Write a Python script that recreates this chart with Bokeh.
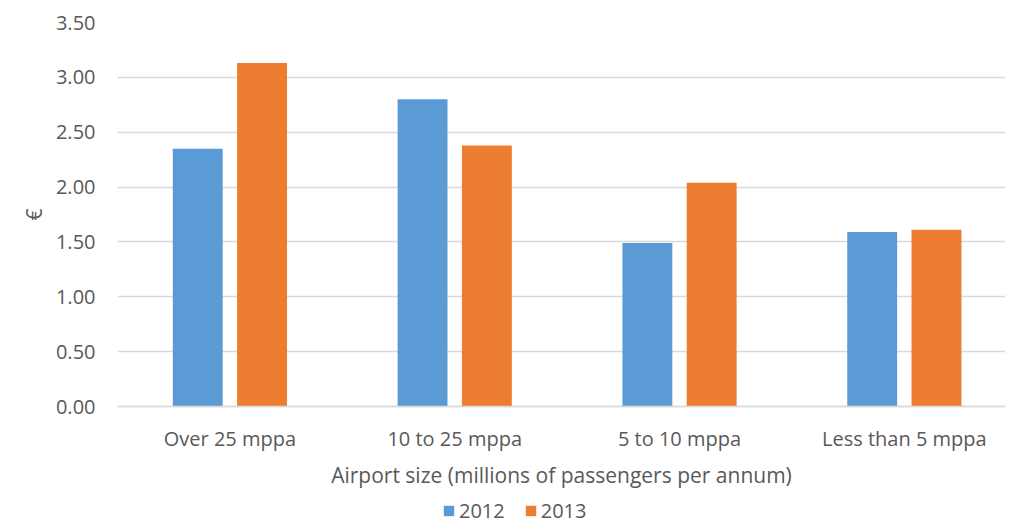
from bokeh.plotting import figure
from bokeh.models import (ColumnDataSource, Range1d, NumeralTickFormatter, Legend, LegendItem,
                          FixedTicker, Title)
from bokeh.embed import file_html
from bokeh.resources import INLINE

categories = ["Over 25 mppa", "10 to 25 mppa", "5 to 10 mppa", "Less than 5 mppa"]
values_2012 = [2.35, 2.80, 1.49, 1.59]
values_2013 = [3.13, 2.38, 2.04, 1.61]
series_names = ["2012", "2013"]
colors = ["#5B9BD5", "#ED7D31"]
y_ticks = [0.0, 0.5, 1.0, 1.5, 2.0, 2.5, 3.0, 3.5]

FONT = "Open Sans"
TXT = "#595959"

centers = [i + 0.5 for i in range(len(categories))]
src = ColumnDataSource(dict(
    x1=[c - 0.143 for c in centers], x2=[c + 0.143 for c in centers],
    v2012=values_2012, v2013=values_2013))

p = figure(x_range=Range1d(0, 3.95), y_range=Range1d(-1.0755, 3.5),
           width=1011, height=524, output_backend="svg", toolbar_location=None,
           min_border_left=117, min_border_right=6, min_border_top=22, min_border_bottom=0)
p.outline_line_color = None
p.background_fill_color = "white"
p.border_fill_color = "white"

r1 = p.vbar(x="x1", top="v2012", width=0.222, source=src, fill_color=colors[0], line_color=None)
r2 = p.vbar(x="x2", top="v2013", width=0.222, source=src, fill_color=colors[1], line_color=None)

p.yaxis.ticker = FixedTicker(ticks=y_ticks)
p.yaxis.formatter = NumeralTickFormatter(format="0.00")
p.yaxis.axis_line_color = None
p.yaxis.major_tick_line_color = None
p.yaxis.minor_tick_line_color = None
p.yaxis.major_label_text_font = FONT
p.yaxis.major_label_text_font_size = "20px"
p.yaxis.major_label_text_color = TXT
p.yaxis.major_label_standoff = 16

euro = Title(text="€", text_font=FONT, text_font_size="21px", text_font_style="normal",
             text_color=TXT, align="right", offset=186, standoff=9)
p.add_layout(euro, "left")

p.xaxis.fixed_location = 0
p.xaxis.ticker = FixedTicker(ticks=centers)
p.xaxis.major_label_overrides = {c: name for c, name in zip(centers, categories)}
p.xaxis.axis_line_color = "#D9D9D9"
p.xaxis.axis_line_width = 1.5
p.xaxis.major_tick_line_color = None
p.xaxis.minor_tick_line_color = None
p.xaxis.major_label_text_font = FONT
p.xaxis.major_label_text_font_size = "20px"
p.xaxis.major_label_text_color = TXT
p.xaxis.major_label_standoff = 12
p.xaxis.axis_label = "Airport size (millions of passengers per annum)"
p.xaxis.axis_label_text_font = FONT
p.xaxis.axis_label_text_font_size = "21px"
p.xaxis.axis_label_text_font_style = "normal"
p.xaxis.axis_label_text_color = TXT
p.xaxis.axis_label_standoff = 6

p.xgrid.grid_line_color = None
p.ygrid.ticker = FixedTicker(ticks=y_ticks)
p.ygrid.grid_line_color = "#D9D9D9"
p.ygrid.grid_line_width = 1.5

legend = Legend(items=[LegendItem(label=series_names[0], renderers=[r1]),
                       LegendItem(label=series_names[1], renderers=[r2])],
                orientation="horizontal", location=(325, 0),
                label_text_font=FONT, label_text_font_size="20px", label_text_color=TXT,
                glyph_width=13, glyph_height=13, label_standoff=4, spacing=19,
                padding=2, margin=0, border_line_color=None, background_fill_alpha=0)
p.add_layout(legend, "center")

open("out.html", "w").write(file_html(p, INLINE))
